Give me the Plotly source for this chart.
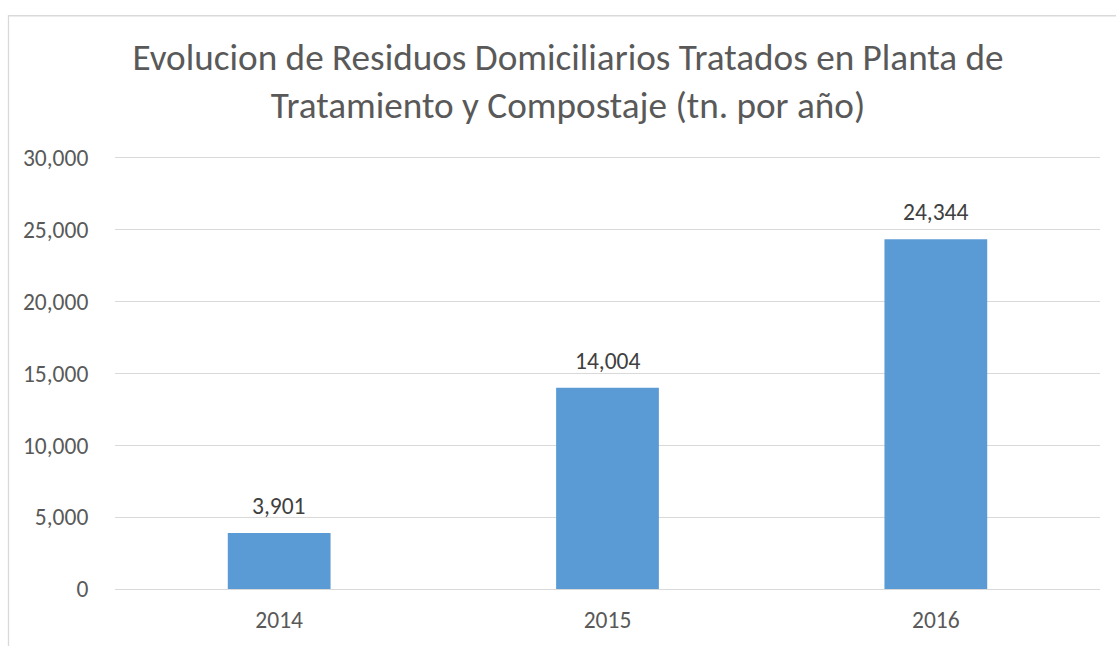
import plotly.graph_objects as go

years = ["2014", "2015", "2016"]
values = [3901, 14004, 24344]
value_labels = ["3,901", "14,004", "24,344"]
tick_vals = [0, 5000, 10000, 15000, 20000, 25000, 30000]
tick_text = ["0", "5,000", "10,000", "15,000", "20,000", "25,000", "30,000"]
title_text = "Evolucion de Residuos Domiciliarios Tratados en Planta de<br>Tratamiento y Compostaje (tn. por año)"

FONT = "Carlito, Calibri, 'Open Sans', sans-serif"
FS = 23.5

fig = go.Figure()
fig.add_trace(go.Bar(x=years, y=values, marker=dict(color="#5b9bd5", line=dict(width=0)),
                     hoverinfo="skip"))

# category axis annotations use category index
for i, (v, t) in enumerate(zip(values, value_labels)):
    fig.add_annotation(x=i, y=v, text=t, showarrow=False, yanchor="bottom",
                       yshift=11, font=dict(family=FONT, size=FS, color="#404040"))

W, H = 1116, 646
L, R, T, B = 115, 16, 154, 53
pw, ph = W - L - R, H - T - B
y_top = 30000 * ph / (ph - 4)  # keep the 30,000 gridline 4px inside the plot area

def px2paper_x(px):
    return (px - L) / pw

def px2paper_y(py):
    return (H - B - py) / ph

fig.add_shape(type="rect", xref="paper", yref="paper",
              x0=px2paper_x(8.5), x1=px2paper_x(1140), y0=px2paper_y(670), y1=px2paper_y(14.5),
              line=dict(color="#d9d9d9", width=1.3), fillcolor="rgba(0,0,0,0)", layer="below")

fig.update_layout(
    width=W, height=H,
    margin=dict(l=L, r=R, t=T, b=B),
    paper_bgcolor="white", plot_bgcolor="white",
    bargap=0.687,
    showlegend=False,
    title=dict(text=title_text, xref="container", x=568 / W, xanchor="center",
               yref="container", y=1 - 70 / H, yanchor="top",
               font=dict(family=FONT, size=37.2, color="#595959")),
    font=dict(family=FONT, color="#595959"),
    xaxis=dict(type="category", range=[-0.5, 2.5], showgrid=False, showline=True,
               linecolor="#d9d9d9", linewidth=1.3,
               ticks="outside", tickcolor="rgba(0,0,0,0)", ticklen=10,
               tickfont=dict(family=FONT, size=FS, color="#595959")),
    yaxis=dict(range=[0, y_top], tickvals=tick_vals, ticktext=tick_text,
               showgrid=True, gridcolor="#d9d9d9", gridwidth=1.3, zeroline=False,
               showline=False, ticks="outside", tickcolor="rgba(0,0,0,0)", ticklen=21,
               tickfont=dict(family=FONT, size=FS, color="#595959")),
)

fig.write_html("out.html", config={"displayModeBar": False},
               post_script="document.body.style.margin='0';document.body.style.overflow='hidden';")
